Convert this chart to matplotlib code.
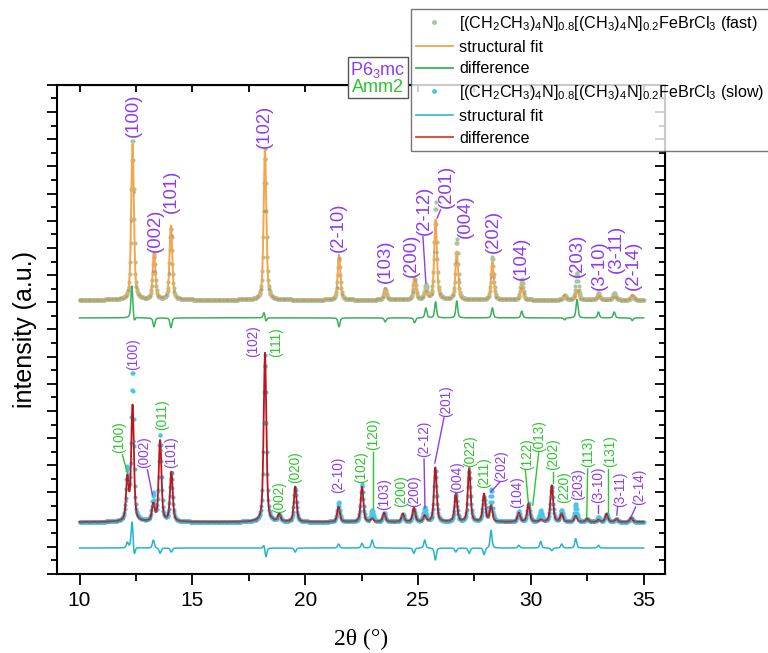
import numpy as np
import matplotlib
matplotlib.use("Agg")
import matplotlib.pyplot as plt
from matplotlib.lines import Line2D
from matplotlib.patches import Rectangle
from matplotlib.ticker import MultipleLocator

plt.rcParams['font.family'] = ['Liberation Sans', 'DejaVu Sans']
plt.rcParams['mathtext.fontset'] = 'custom'
plt.rcParams['mathtext.rm'] = 'Liberation Sans'
plt.rcParams['mathtext.it'] = 'Liberation Sans:italic'
plt.rcParams['mathtext.default'] = 'regular'

# fast-cooled sample: peak positions (2theta) and heights (a.u.)
fast_pos = [12.35, 13.30, 14.05, 18.22, 21.50, 23.55, 24.85, 25.35, 25.78, 26.72,
            28.30, 29.60, 31.50, 32.05, 33.00, 33.70, 34.50]
fast_fit_h = [11.63, 3.46, 5.52, 11.05, 3.31, 0.88, 1.62, 0.59, 5.89, 3.53,
              2.80, 1.10, 0.37, 0.74, 0.37, 0.30, 0.37]
fast_obs_h = [11.90, 3.30, 5.30, 11.10, 3.10, 0.80, 1.50, 1.03, 7.14, 4.42,
              3.17, 1.55, 0.30, 1.99, 0.52, 0.52, 0.30]
fast_diff_pos = [12.32, 12.42, 13.30, 14.05, 18.18, 18.26, 21.50, 23.55, 24.85, 25.35,
                 25.78, 26.72, 28.30, 29.60, 31.50, 32.05, 33.00, 33.70, 34.50]
fast_diff_h = [2.40, -0.40, -0.66, -0.74, 0.45, -0.30, -0.66, -0.30, -0.37, 0.74,
               1.18, 1.25, 0.74, 0.50, -0.15, 1.40, 0.44, 0.44, -0.20]

# slow-cooled sample
slow_pos = [12.12, 12.35, 13.27, 13.57, 14.07, 18.22, 18.85, 19.56, 21.48, 22.52,
            22.97, 23.50, 24.33, 24.82, 25.30, 25.77, 26.68, 27.27, 27.93, 28.24,
            29.47, 29.90, 30.44, 30.93, 31.37, 31.99, 32.50, 33.00, 33.36, 33.80, 34.45]
slow_fit_h = [3.09, 8.62, 1.25, 6.04, 3.68, 12.44, 0.52, 2.58, 1.10, 2.58,
              0.22, 0.66, 0.59, 1.03, 0.44, 4.05, 2.06, 3.98, 2.06, 1.18,
              0.66, 1.33, 0.15, 2.72, 0.59, 0.44, 0.22, 0.15, 0.59, 0.22, 0.30]
slow_obs_h = [3.61, 10.97, 1.99, 6.41, 3.60, 12.30, 0.50, 2.50, 1.47, 2.80,
              0.88, 0.66, 0.59, 0.90, 1.03, 3.80, 1.90, 3.70, 1.80, 2.36,
              0.80, 1.33, 0.81, 2.60, 0.88, 1.33, 0.22, 0.37, 0.60, 0.22, 0.30]
slow_diff_pos = [12.12, 12.33, 12.42, 13.27, 13.57, 14.07, 18.18, 18.26, 19.56, 21.48,
                 22.52, 22.97, 24.82, 25.30, 25.77, 26.68, 27.27, 27.93, 28.24, 29.47,
                 30.44, 30.93, 31.37, 31.99, 33.00]
slow_diff_h = [0.40, 2.06, -0.70, 0.60, -0.40, -0.30, 0.30, -0.70, -0.30, 0.30,
               0.35, 0.60, -0.40, 0.60, -0.90, -0.30, -0.40, -0.50, 1.30, 0.20,
               0.50, -0.20, 0.30, 0.70, 0.20]

# vertical offsets of the stacked curves
fast_base, fast_diff_base = 20.18, 18.85
slow_base, slow_diff_base = 3.83, 1.91

two_theta = np.arange(10, 35.001, 0.02)


def pattern(pos, height, fwhm=0.14):
    y = np.zeros_like(two_theta)
    for p, h in zip(pos, height):
        d = (two_theta - p) / fwhm
        y += h * (0.5 / (1 + 4 * d**2) + 0.5 * np.exp(-4 * np.log(2) * d**2))
    return y


PURPLE = '#8d3cf0'
GREEN = '#2ec52e'

# reflection labels: (text, x, y bottom)
top_labels = [("(100)", 12.39, 32.18), ("(002)", 13.36, 23.71), ("(101)", 14.07, 26.58),
              ("(102)", 18.19, 31.37), ("(2-10)", 21.46, 23.71), ("(103)", 23.54, 21.43),
              ("(200)", 24.69, 21.87), ("(2-12)", 25.27, 24.96), ("(201)", 26.24, 26.95),
              ("(004)", 27.12, 24.74), ("(202)", 28.36, 23.64), ("(104)", 29.60, 21.65),
              ("(203)", 32.08, 21.87), ("(3-10)", 33.05, 20.91), ("(3-11)", 33.81, 22.16),
              ("(2-14)", 34.56, 20.91)]
top_leaders = [(25.22, 24.82, 25.35, 21.43), (26.0, 26.8, 25.85, 26.2)]

bot_labels = [("(100)", GREEN, 11.77, 8.91), ("(100)", PURPLE, 12.39, 15.02),
              ("(002)", PURPLE, 12.88, 7.81), ("(011)", GREEN, 13.67, 10.6),
              ("(101)", PURPLE, 14.07, 7.81), ("(102)", PURPLE, 17.70, 15.98),
              ("(111)", GREEN, 18.72, 15.98), ("(002)", GREEN, 18.85, 4.49),
              ("(020)", GREEN, 19.56, 6.7), ("(2-10)", PURPLE, 21.47, 5.96),
              ("(102)", GREEN, 22.48, 6.7), ("(120)", GREEN, 23.0, 9.13),
              ("(103)", PURPLE, 23.5, 4.71), ("(200)", GREEN, 24.25, 4.93),
              ("(200)", PURPLE, 24.82, 4.93), ("(2-12)", PURPLE, 25.27, 8.62),
              ("(201)", PURPLE, 26.24, 11.56), ("(004)", PURPLE, 26.73, 5.96),
              ("(022)", GREEN, 27.3, 7.88), ("(211)", GREEN, 27.95, 6.33),
              ("(202)", PURPLE, 28.7, 6.77), ("(104)", PURPLE, 29.40, 4.86),
              ("(122)", GREEN, 29.84, 7.66), ("(013)", GREEN, 30.38, 8.98),
              ("(202)", GREEN, 31.0, 7.66), ("(220)", GREEN, 31.47, 5.23),
              ("(203)", PURPLE, 32.08, 5.45), ("(113)", GREEN, 32.56, 7.88),
              ("(3-10)", PURPLE, 33.0, 5.23), ("(131)", GREEN, 33.5, 7.88),
              ("(3-11)", PURPLE, 33.97, 4.93), ("(2-14)", PURPLE, 34.8, 5.08)]
bot_leaders = [(GREEN, 11.90, 8.76, 12.12, 7.44), (PURPLE, 13.01, 7.66, 13.23, 5.82),
               (GREEN, 23.0, 8.98, 23.0, 4.86), (PURPLE, 25.27, 8.47, 25.31, 4.86),
               (PURPLE, 26.15, 11.49, 25.75, 8.17), (PURPLE, 28.63, 6.77, 28.23, 6.04),
               (GREEN, 29.76, 7.66, 29.91, 4.93), (GREEN, 30.35, 8.91, 30.09, 5.08),
               (GREEN, 31.0, 7.51, 31.0, 6.7), (GREEN, 32.52, 7.73, 32.48, 4.12),
               (PURPLE, 33.0, 5.1, 33.0, 4.49), (GREEN, 33.41, 7.73, 33.41, 4.57),
               (PURPLE, 33.85, 4.93, 33.81, 4.34), (PURPLE, 34.65, 4.93, 34.42, 4.12)]

fig = plt.figure(figsize=(7.68, 6.53), dpi=100)
ax = fig.add_axes([0.0742, 0.121, 0.7917, 0.749])

fast_fit = fast_base + pattern(fast_pos, fast_fit_h)
fast_obs = fast_base + pattern(fast_pos, fast_obs_h)
fast_diff = fast_diff_base + pattern(fast_diff_pos, fast_diff_h, fwhm=0.1)
slow_fit = slow_base + pattern(slow_pos, slow_fit_h)
slow_obs = slow_base + pattern(slow_pos, slow_obs_h)
slow_diff = slow_diff_base + pattern(slow_diff_pos, slow_diff_h, fwhm=0.1)

ax.plot(two_theta, fast_obs, 'o', color='#a9c5a0', ms=3, mec='none', zorder=2)
ax.plot(two_theta, fast_fit, color='#f5a54a', lw=1.4, zorder=3)
ax.plot(two_theta[::6], fast_fit[::6], 'o', color='#9a9a80', ms=2, mec='none', alpha=0.7, zorder=4)
ax.plot(two_theta, fast_diff, color='#3cb05a', lw=1.1, zorder=3)

ax.plot(two_theta, slow_obs, 'o', color='#4cc6e6', ms=3, mec='none', zorder=2)
ax.plot(two_theta, slow_fit, color='#c0141c', lw=1.3, zorder=3)
ax.plot(two_theta[::6], slow_fit[::6], 'o', color='#707070', ms=2, mec='none', alpha=0.7, zorder=4)
ax.plot(two_theta, slow_diff, color='#25b4d0', lw=1.1, zorder=3)

for txt, x, y in top_labels:
    ax.text(x, y, txt, rotation=90, ha='center', va='bottom', color=PURPLE, fontsize=13.3)
for x0, y0, x1, y1 in top_leaders:
    ax.plot([x0, x1], [y0, y1], color=PURPLE, lw=1)
for txt, c, x, y in bot_labels:
    ax.text(x, y, txt, rotation=90, ha='center', va='bottom', color=c, fontsize=9.8)
for c, x0, y0, x1, y1 in bot_leaders:
    ax.plot([x0, x1], [y0, y1], color=c, lw=1)

ax.set_xlim(9, 35.95)
ax.set_ylim(0, 36)
ax.xaxis.set_major_locator(MultipleLocator(5))
ax.xaxis.set_minor_locator(MultipleLocator(2.5))
ax.yaxis.set_major_locator(MultipleLocator(2))
ax.yaxis.set_minor_locator(MultipleLocator(1))
ax.set_yticklabels([])
ax.tick_params(axis='x', which='major', direction='out', length=8, width=1.3, labelsize=15, pad=4)
ax.tick_params(axis='x', which='minor', direction='out', length=5, width=1.3)
ax.tick_params(axis='y', which='major', direction='out', length=7, width=1.3)
ax.tick_params(axis='y', which='minor', direction='out', length=4, width=1.3)
for s in ax.spines.values():
    s.set_linewidth(1.5)

top = ax.secondary_xaxis('top')
top.xaxis.set_major_locator(MultipleLocator(2.5))
top.tick_params(direction='in', length=5, width=1.3, labeltop=False)
right = ax.secondary_yaxis('right')
right.yaxis.set_major_locator(MultipleLocator(2))
right.yaxis.set_minor_locator(MultipleLocator(1))
right.tick_params(which='major', direction='in', length=7, width=1.3, labelright=False)
right.tick_params(which='minor', direction='in', length=4, width=1.3)

ax.set_xlabel('2θ (°)', fontsize=17, family='Liberation Serif', labelpad=14)
ax.set_ylabel('intensity (a.u.)', fontsize=18, labelpad=4)

handles = [
    Line2D([], [], ls='none', marker='o', ms=2.5, color='#a9c5a0'),
    Line2D([], [], color='#f5a54a', lw=1.3),
    Line2D([], [], color='#3cb05a', lw=1.3),
    Line2D([], [], ls='none', marker='o', ms=2.5, color='#4cc6e6'),
    Line2D([], [], color='#3cc3c8', lw=1.3),
    Line2D([], [], color='#e0402a', lw=1.3),
]
labels = [
    r'[(CH$_2$CH$_3$)$_4$N]$_{0.8}$[(CH$_3$)$_4$N]$_{0.2}$FeBrCl$_3$ (fast)',
    'structural fit', 'difference',
    r'[(CH$_2$CH$_3$)$_4$N]$_{0.8}$[(CH$_3$)$_4$N]$_{0.2}$FeBrCl$_3$ (slow)',
    'structural fit', 'difference',
]
leg = fig.legend(handles, labels, loc='upper left', bbox_to_anchor=(411 / 768, 1 - 9 / 653),
                 fontsize=11.6, frameon=True, fancybox=False, edgecolor='#555555',
                 handlelength=2.3, handletextpad=0.4, labelspacing=0.42, borderpad=0.3,
                 borderaxespad=0, numpoints=1)
leg.get_frame().set_linewidth(1.0)

fig.patches.append(Rectangle((348 / 768, 1 - 98 / 653), 60 / 768, 41 / 653,
                             transform=fig.transFigure, facecolor='white',
                             edgecolor='#555555', lw=1.0, zorder=5))
fig.text(378 / 768, 1 - 70 / 653, 'P6$_3$mc', color=PURPLE, fontsize=13,
         ha='center', va='center', zorder=6)
fig.text(378 / 768, 1 - 87 / 653, 'Amm2', color=GREEN, fontsize=13,
         ha='center', va='center', zorder=6)

fig.savefig('out.png', dpi=100)
